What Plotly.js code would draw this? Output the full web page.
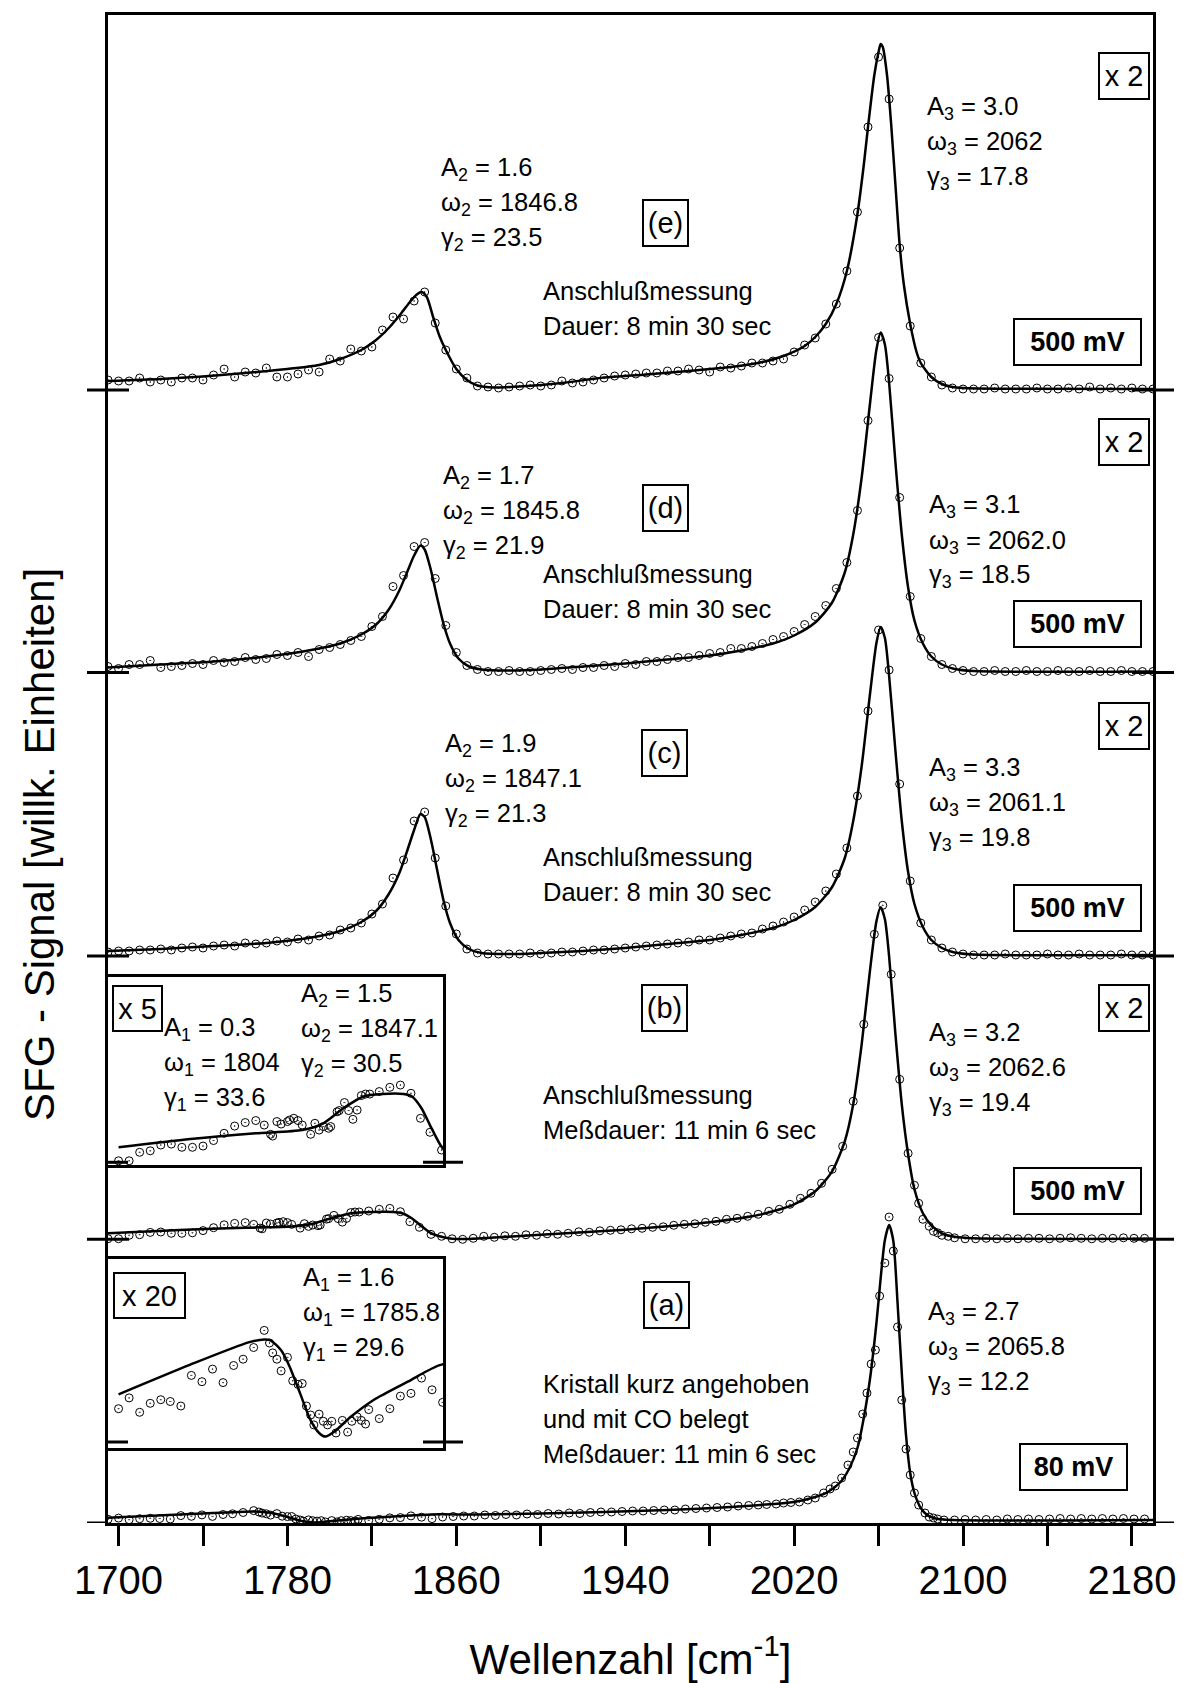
<!DOCTYPE html>
<html><head><meta charset="utf-8">
<script src="https://cdn.plot.ly/plotly-3.0.1.min.js"></script>
<style>html,body{margin:0;padding:0;background:#fff}#chart{width:1183px;height:1683px}</style>
</head><body><div id="chart"></div>
<script>
// ---------- DATA (signal in arbitrary units, wavenumber in cm^-1) ----------
const wnGrid = [1695,1700,1705,1710,1715,1720,1725,1730,1735,1740,1745,1750,1755,1760,1765,1770,1775,1780,1785,1790,
1795,1800,1805,1810,1815,1820,1825,1830,1835,1840,1845,1850,1855,1860,1865,1870,1875,1880,1885,1890,
1895,1900,1905,1910,1915,1920,1925,1930,1935,1940,1945,1950,1955,1960,1965,1970,1975,1980,1985,1990,
1995,2000,2005,2010,2015,2020,2025,2030,2035,2040,2045,2050,2055,2060,2065,2070,2075,2080,2085,2090,
2095,2100,2105,2110,2115,2120,2125,2130,2135,2140,2145,2150,2155,2160,2165,2170,2175,2180,2185,2190];

const dataE = [1.0,0.9,0.9,1.2,0.8,1.0,0.8,1.2,1.2,1.0, 1.5,2.1,1.3,1.8,1.7,2.2,1.3,1.3,1.6,2.0,
1.8,3.1,2.9,4.1,3.9,4.3,6.0,7.3,7.1,8.9, 9.8,6.7,4.0,2.1,1.2,0.4,0.3,0.2,0.3,0.4,
0.5,0.4,0.5,0.9,0.7,0.8,1.0,1.2,1.4,1.5, 1.6,1.7,1.7,1.9,1.9,2.1,2.0,1.8,2.3,2.2,
2.4,2.7,2.7,2.9,3.1,3.8,4.5,5.2,6.6,8.6, 11.9,17.8,26.3,33.3,29.1,14.2,6.4,2.7,1.3,0.5,
0.2,0.1,0.1,0.1,0.2,0.1,0.1,0.1,0.2,0.1, 0.1,0.2,0.1,0.3,0.1,0.2,0.1,0.2,0.1,0.1];

const dataD = [0.6,0.4,0.8,0.8,1.2,0.5,0.6,0.7,0.9,0.8, 1.2,1.0,1.1,1.5,1.3,1.4,1.8,1.7,2.0,1.6,
2.3,2.5,2.8,3.2,3.6,4.6,5.6,8.6,9.7,12.6, 13.0,9.4,4.7,2.0,0.7,0.3,0.1,0.1,0.2,0.1,
0.1,0.2,0.3,0.4,0.3,0.5,0.5,0.7,0.6,0.9, 0.8,1.1,1.1,1.3,1.5,1.5,1.7,1.9,2.0,2.4,
2.4,2.6,2.9,3.3,3.6,4.1,4.8,5.6,6.7,8.4, 11.0,16.2,25.2,33.5,29.4,17.5,7.6,3.4,1.6,0.8,
0.4,0.2,0.1,0.1,0.2,0.1,0.1,0.2,0.1,0.1, 0.2,0.1,0.1,0.2,0.1,0.1,0.2,0.1,0.1,0.1];

const dataC = [0.4,0.5,0.5,0.6,0.6,0.7,0.6,0.8,0.9,0.8, 1.0,1.1,1.0,1.3,1.2,1.3,1.5,1.4,1.7,1.6,
2.0,2.1,2.6,2.8,3.3,4.2,5.2,7.8,9.6,13.5, 14.4,9.8,5.0,2.2,0.7,0.3,0.2,0.2,0.2,0.2,
0.3,0.2,0.3,0.4,0.4,0.5,0.6,0.6,0.7,0.8, 0.9,1.0,1.1,1.2,1.3,1.4,1.6,1.6,1.8,2.0,
2.2,2.3,2.7,3.0,3.4,3.9,4.6,5.4,6.5,8.2, 10.8,16.0,24.5,32.6,28.6,17.2,7.5,3.3,1.6,0.8,
0.4,0.2,0.1,0.1,0.1,0.2,0.1,0.1,0.1,0.2, 0.1,0.1,0.2,0.1,0.1,0.1,0.2,0.1,0.1,0.1];

const wnB = [1695,1700,1705,1710,1715,1720,1725,1730,1735,1740,1745,1750,1755,1760,1764,1767,1768,1770,1772,1775,
1776,1778,1780,1782,1786,1788,1790,1792,1794.5,1795.5,1798.5,1799.5,1802,1804,1806,1808,1810,1812,1814,1818.5,
1823.5,1828.5,1833.5,1838,1842.5,1848,1853,1858,1863,1868,1873,1878,1883,1888,1893,1898,1903,1908,1913,1918,
1923,1928,1933,1938,1943,1948,1953,1958,1963,1968,1973,1978,1983,1988,1993,1998,2003,2008,2013,2018,
2023,2028,2033,2038,2043,2048,2053,2058,2062,2066,2070,2074,2077,2079,2081,2084,2086,2088,2090,2093,
2096,2101,2106,2111,2116,2121,2126,2131,2136,2141,2146,2151,2156,2161,2166,2171,2176,2181,2186];
const dataB = [0.06,0.06,0.4,0.46,0.69,0.73,0.6,0.6,0.65,0.87,1.16,1.45,1.59,1.67,1.49,1.12,1.05,1.63,1.53,1.63,
1.69,1.76,1.67,1.49,1.12,1.56,1.29,1.43,1.36,1.43,2.02,2.07,2.39,2.07,1.72,2.09,2.67,2.73,2.73,2.83,
3.0,3.09,2.76,1.76,1.2,0.49,0.3,0.05,0.0,0.1,0.3,0.2,0.35,0.3,0.45,0.4,0.55,0.5,0.6,0.75,
0.7,0.85,0.9,0.95,1.05,1.1,1.2,1.25,1.4,1.5,1.55,1.7,1.8,2.0,2.1,2.3,2.5,2.8,3.0,3.5,
4.1,4.6,5.6,7.0,9.3,13.8,21.5,30.5,33.4,26.5,16.0,8.6,5.4,3.6,2.0,1.3,0.8,0.65,0.4,0.3,
0.15,0.05,0.05,0.1,0.05,0.1,0.05,0.1,0.1,0.05,0.1,0.15,0.1,0.05,0.1,0.1,0.15,0.1,0.1];

const wnA = [1695,1700,1705,1710,1715,1719.5,1724.5,1729.5,1734.5,1739.5,1744.5,1749.5,1754,1759,1764,1766.5,1768,1770,1772,1775,
1777.5,1780,1782,1784,1786,1787.5,1790,1792,1794,1796,1798,1801,1803.5,1805.5,1808,1810,1812,1813.5,1818.5,1823.5,
1828.5,1833.5,1838.5,1843.5,1848.5,1853.5,1858.5,1863.5,1868.5,1873.5,1878.5,1883.5,1888.5,1893.5,1898.5,1903.5,1908.5,1913.5,1918.5,1923.5,
1928.5,1933.5,1938.5,1943.5,1948.5,1953.5,1958.5,1963.5,1968.5,1973.5,1978.5,1983.5,1988.5,1993.5,1998.5,2003,2007,2011.5,2015,2018.5,
2022.5,2026.5,2030,2034,2037,2039.5,2042.5,2045.5,2048,2050,2052.5,2054.5,2056.5,2058.5,2060.5,2063,2065,2067,2069,2071,
2073,2075,2077,2079,2082,2084,2086,2088,2091,2096,2101,2106,2111,2116,2121,2126,2131,2136,2141,2146,
2151,2156,2161,2166,2171,2176,2181,2186];
const dataA = [0.37,0.49,0.33,0.43,0.47,0.45,0.40,0.74,0.67,0.81,0.66,0.85,0.92,1.05,1.24,1.10,0.99,0.92,0.79,0.94,
0.68,0.64,0.65,0.40,0.30,0.19,0.31,0.23,0.19,0.23,0.10,0.24,0.11,0.23,0.28,0.24,0.20,0.36,0.26,0.37,
0.51,0.54,0.71,0.58,0.44,0.6,0.65,0.7,0.7,0.8,0.75,0.85,0.8,0.9,0.85,0.95,0.9,1.0,0.95,1.05,
1.1,1.1,1.15,1.2,1.2,1.25,1.3,1.3,1.4,1.45,1.5,1.55,1.6,1.7,1.75,1.8,1.85,1.9,2.0,2.05,
2.1,2.3,2.5,3.0,3.4,3.7,4.5,5.8,7.1,8.5,10.9,13.0,15.9,17.3,22.7,26.0,30.6,27.2,19.6,12.3,
7.4,4.8,3.0,1.8,1.0,0.6,0.5,0.4,0.3,0.3,0.35,0.3,0.35,0.3,0.4,0.35,0.4,0.35,0.4,0.45,
0.4,0.45,0.4,0.45,0.4,0.45,0.4,0.4];

// fitted curves
const fitEx = [1695,1720,1740,1760,1780,1795,1805,1815,1822,1828,1834,1838,1841,1843.5,1846,1849,1852,1855,1860,1865,1870,1878,1890,1910,1930,1950,1970,1990,2005,2015,2025,2030,2035,2040,2045,2050,2053,2055,2058,2060,2061,2062,2064,2066,2068,2070,2072,2075,2078,2080,2085,2090,2095,2100,2120,2190];
const fitEy = [0.9,1.1,1.35,1.7,2.1,2.5,3.1,4.0,5.0,6.2,7.7,8.8,9.5,9.8,9.3,7.3,5.4,4.0,2.1,1.0,0.45,0.25,0.35,0.7,1.25,1.55,1.9,2.3,2.8,3.4,4.4,5.3,6.6,8.6,11.9,17.6,22.5,26.3,31.5,33.8,34.6,34.3,31.5,26.5,20.5,14.5,10.5,6.6,3.8,2.7,1.3,0.6,0.3,0.2,0.12,0.1];

const fitDx = [1695,1720,1745,1770,1790,1805,1815,1822,1828,1833,1837,1840,1843,1845,1848,1851,1854,1857,1861,1866,1872,1885,1900,1920,1940,1960,1980,1995,2010,2020,2030,2038,2044,2048,2052,2056,2059,2061,2063,2065,2068,2071,2074,2077,2081,2085,2090,2096,2105,2190];
const fitDy = [0.5,0.8,1.1,1.6,2.2,2.9,3.8,4.8,6.3,8.2,10.2,11.7,12.7,12.3,10.2,7.4,4.8,2.9,1.4,0.6,0.3,0.2,0.3,0.6,0.9,1.3,1.7,2.2,2.9,3.7,5.0,7.0,10.0,13.8,19.5,27.0,32.3,34.0,32.8,29.0,21.0,13.8,8.5,5.2,2.9,1.6,0.8,0.35,0.15,0.1];

const fitCx = [1695,1720,1745,1770,1790,1805,1815,1822,1828,1833,1837,1840,1843,1845,1848,1851,1854,1857,1861,1866,1872,1885,1900,1920,1940,1960,1980,1995,2010,2020,2030,2038,2044,2048,2052,2056,2059,2061,2063,2065,2068,2071,2074,2077,2081,2085,2090,2096,2105,2190];
const fitCy = [0.5,0.7,1.0,1.3,1.8,2.5,3.4,4.5,6.2,8.3,10.7,12.6,14.2,13.9,11.6,8.5,5.5,3.3,1.6,0.7,0.3,0.2,0.3,0.5,0.8,1.2,1.6,2.1,2.8,3.6,4.9,6.9,9.8,13.5,19.0,26.3,31.3,32.9,31.8,28.0,20.5,13.5,8.4,5.2,2.9,1.6,0.8,0.35,0.15,0.1];

const fitBx = [1695,1729,1760,1782,1792,1801.5,1811,1820,1830,1834,1838.5,1842.5,1848,1852,1857,1862,1868,1880,1900,1920,1940,1960,1980,2000,2010,2020,2030,2038,2044,2048,2052,2056,2059,2061,2063,2065,2068,2071,2074,2077,2081,2085,2090,2096,2105,2190];
const fitBy = [0.6,0.93,1.16,1.29,1.56,2.16,2.63,2.73,2.73,2.63,2.16,1.49,0.62,0.3,0.08,0.02,0.06,0.2,0.45,0.7,0.95,1.3,1.7,2.3,2.8,3.5,4.8,6.8,9.8,13.5,19.5,27.0,31.8,33.2,32.0,28.3,20.5,13.5,8.5,5.0,2.6,1.4,0.6,0.25,0.1,0.05];

const fitAx = [1695,1729,1757,1764,1767,1772,1776,1781,1786,1790,1793,1797,1805,1816,1832,1848,1870,1900,1930,1960,1990,2010,2020,2030,2036,2042,2046,2050,2053,2056,2059,2061,2063,2065,2067,2069,2071,2073,2075,2077,2080,2083,2087,2095,2190];
const fitAy = [0.53,0.86,1.11,1.14,1.13,1.02,0.84,0.54,0.24,0.10,0.06,0.11,0.28,0.47,0.67,0.86,0.85,0.95,1.1,1.3,1.6,1.9,2.1,2.6,3.1,4.1,5.4,7.5,10.5,14.5,20.0,24.5,28.3,29.8,28.2,22.0,15.0,8.8,5.0,3.0,1.5,0.8,0.45,0.3,0.3];

const tickStart = 1700, tickStep = 80, minorStep = 40;

// ---------- LAYOUT GEOMETRY (page pixels) ----------
const W = 1183, H = 1683;
const PL = 108, PR = 1153, PT = 15, PB = 1523;   // plot frame
const PW = PR - PL, PH = PB - PT;
const XR = [1695, 2190];
const pxPerUnit = 10;                               // main traces
const base = {a: 1523, b: 1239.3, c: 956, d: 672.5, e: 390};
const rng = yb => [-(PB - yb) / pxPerUnit, (yb - PT) / pxPerUnit];
const fx = p => (p - PL) / PW, fy = p => (PB - p) / PH;

// insets
const insetRight = 443;
const insetFrac = fx(insetRight);
const insetX0 = 1690;
const insetXR = [insetX0, insetX0 + insetFrac * (XR[1] - XR[0])];
const inB = {top: 977, bot: 1165, zero: 1162.3, scale: 25};
const inA = {top: 1259, bot: 1448, zero: 1442, scale: 90};

const FONT = 'Liberation Sans, Arial, Helvetica, sans-serif';
const K = '#000';

const lineStyle = {color: K, width: 2.5, shape: 'spline', smoothing: 0.7};
const mk = {symbol: 'circle-open-dot', size: 8, color: K, line: {width: 1, color: K}};

const traces = [];
function addSpec(fx_, fy_, dx, dy, xa, ya) {
  traces.push({x: fx_, y: fy_, mode: 'lines', line: lineStyle, xaxis: xa, yaxis: ya, hoverinfo: 'skip'});
  traces.push({x: dx, y: dy, mode: 'markers', marker: mk, xaxis: xa, yaxis: ya, hoverinfo: 'skip'});
}
addSpec(fitAx, fitAy, wnA, dataA, 'x', 'y');
addSpec(fitBx, fitBy, wnB, dataB, 'x', 'y2');
addSpec(fitCx, fitCy, wnGrid, dataC, 'x', 'y3');
addSpec(fitDx, fitDy, wnGrid, dataD, 'x', 'y4');
addSpec(fitEx, fitEy, wnGrid, dataE, 'x', 'y5');
addSpec(fitBx, fitBy, wnB, dataB, 'x2', 'y6');
addSpec(fitAx, fitAy, wnA, dataA, 'x3', 'y7');

const hidden = {overlaying: 'y', anchor: 'x', visible: false};
const insetAxis = {showline: true, mirror: true, linewidth: 3, linecolor: K, ticks: '', showticklabels: false, showgrid: false, zeroline: false};

// shapes: baseline markers
const shapes = [];
function seg(x0, x1, yref, w) {
  shapes.push({type: 'line', xref: 'paper', yref: yref, x0: x0, x1: x1, y0: 0, y1: 0, line: {color: K, width: w || 3}});
}
const ext = 21 / PW;
seg(-ext, 0, 'y'); seg(1, 1 + ext, 'y');
['y2', 'y3', 'y4', 'y5'].forEach(r => { seg(-ext, ext, r); seg(1 - ext, 1 + ext, r); });
['y6', 'y7'].forEach(r => { seg(0, fx(128), r); seg(fx(423), fx(463), r); });

// annotations
const anns = [];
const LS = 35;   // line spacing in px
function txt(lines, xp, yc) {
  const n = lines.length;
  lines.forEach((t, i) => {
    anns.push({text: t, xref: 'paper', yref: 'paper', x: fx(xp), y: fy(yc + (i - (n - 1) / 2) * LS),
      xanchor: 'left', yanchor: 'middle', align: 'left', showarrow: false,
      font: {family: FONT, size: 25.5, color: K}});
  });
}
function box(t, cx, cy, w, h, bold) {
  anns.push({text: bold ? '<b>' + t + '</b>' : t, xref: 'paper', yref: 'paper', x: fx(cx), y: fy(cy),
    xanchor: 'center', yanchor: 'middle', showarrow: false, width: w - 4, height: h - 4,
    bordercolor: K, borderwidth: 2, borderpad: 0, bgcolor: '#fff',
    font: {family: FONT, size: bold ? 27 : 29, color: K}});
}
const par = (n, A, w, g) => ['A<sub>' + n + '</sub> = ' + A, 'ω<sub>' + n + '</sub> = ' + w, 'γ<sub>' + n + '</sub> = ' + g];

// (e)
txt(par(2, '1.6', '1846.8', '23.5'), 439, 204);
txt(['Anschlußmessung', 'Dauer: 8 min 30 sec'], 541, 308.5);
txt(par(3, '3.0', '2062', '17.8'), 925, 143);
box('(e)', 665.5, 223, 47, 48); box('x 2', 1124, 76, 52, 48); box('500 mV', 1077.5, 342, 129, 48, true);
// (d)
txt(par(2, '1.7', '1845.8', '21.9'), 441, 512);
txt(['Anschlußmessung', 'Dauer: 8 min 30 sec'], 541, 591.5);
txt(par(3, '3.1', '2062.0', '18.5'), 927, 541.5);
box('(d)', 665, 508, 47, 48); box('x 2', 1124, 442, 52, 48); box('500 mV', 1077, 624, 129, 48, true);
// (c)
txt(par(2, '1.9', '1847.1', '21.3'), 443, 779.5);
txt(['Anschlußmessung', 'Dauer: 8 min 30 sec'], 541, 874);
txt(par(3, '3.3', '2061.1', '19.8'), 927, 804);
box('(c)', 664, 753, 47, 48); box('x 2', 1124, 726, 52, 48); box('500 mV', 1077, 908, 129, 48, true);
// (b)
txt(par(1, '0.3', '1804', '33.6'), 162, 1064);
txt(par(2, '1.5', '1847.1', '30.5'), 299, 1030);
txt(['Anschlußmessung', 'Meßdauer: 11 min 6 sec'], 541, 1112);
txt(par(3, '3.2', '2062.6', '19.4'), 927, 1068.5);
box('x 5', 137.5, 1008.5, 51, 47); box('(b)', 664, 1008, 47, 48); box('x 2', 1124, 1008, 52, 48); box('500 mV', 1077, 1191, 129, 48, true);
// (a)
txt(par(1, '1.6', '1785.8', '29.6'), 301, 1314);
txt(['Kristall kurz angehoben', 'und mit CO belegt', 'Meßdauer: 11 min 6 sec'], 541, 1419);
txt(par(3, '2.7', '2065.8', '12.2'), 926, 1348);
box('x 20', 149.5, 1295.5, 73, 47); box('(a)', 666.5, 1305, 47, 48); box('80 mV', 1073.5, 1467, 109, 48, true);

// y-axis title
anns.push({text: 'SFG - Signal [willk. Einheiten]', xref: 'paper', yref: 'paper', x: fx(39), y: fy(845),
  xanchor: 'center', yanchor: 'middle', textangle: -90, showarrow: false, font: {family: FONT, size: 42, color: K}});

const layout = {
  width: W, height: H, margin: {l: PL, r: W - PR, t: PT, b: H - PB},
  paper_bgcolor: '#fff', plot_bgcolor: 'rgba(0,0,0,0)', showlegend: false,
  font: {family: FONT, color: K},
  xaxis: {range: XR, anchor: 'y', showline: true, mirror: true, linewidth: 3, linecolor: K,
    ticks: 'outside', ticklen: 20, tickwidth: 3, tickcolor: K, tick0: tickStart, dtick: tickStep,
    minor: {ticks: 'outside', tick0: tickStart, dtick: minorStep, ticklen: 20, tickwidth: 3, tickcolor: K, showgrid: false},
    tickfont: {family: FONT, size: 40, color: K}, showgrid: false, zeroline: false,
    title: {text: 'Wellenzahl [cm<sup>-1</sup>]', font: {family: FONT, size: 42, color: K}, standoff: 46}},
  yaxis: {range: rng(base.a), showline: true, mirror: true, linewidth: 3, linecolor: K, ticks: '',
    showticklabels: false, showgrid: false, zeroline: false},
  yaxis2: Object.assign({range: rng(base.b)}, hidden),
  yaxis3: Object.assign({range: rng(base.c)}, hidden),
  yaxis4: Object.assign({range: rng(base.d)}, hidden),
  yaxis5: Object.assign({range: rng(base.e)}, hidden),
  xaxis2: Object.assign({domain: [0, insetFrac], anchor: 'y6', range: insetXR}, insetAxis),
  yaxis6: Object.assign({domain: [fy(inB.bot), fy(inB.top)], anchor: 'x2',
    range: [-(inB.bot - inB.zero) / inB.scale, (inB.zero - inB.top) / inB.scale]}, insetAxis),
  xaxis3: Object.assign({domain: [0, insetFrac], anchor: 'y7', range: insetXR}, insetAxis),
  yaxis7: Object.assign({domain: [fy(inA.bot), fy(inA.top)], anchor: 'x3',
    range: [-(inA.bot - inA.zero) / inA.scale, (inA.zero - inA.top) / inA.scale]}, insetAxis),
  shapes: shapes,
  annotations: anns
};

Plotly.newPlot('chart', traces, layout, {displayModeBar: false});
</script></body></html>
